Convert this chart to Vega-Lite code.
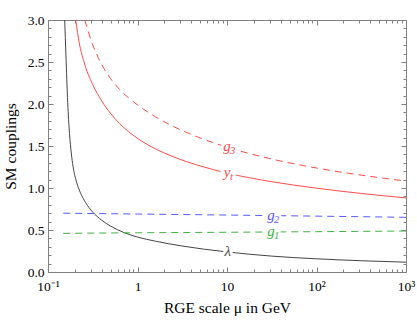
{
  "$schema": "https://vega.github.io/schema/vega-lite/v6.json",
  "width": 358,
  "height": 252,
  "autosize": "none",
  "padding": {"left": 48, "top": 20, "right": 11, "bottom": 52},
  "config": {
    "view": {"stroke": null},
    "font": "Liberation Serif",
    "axis": {
      "grid": false,
      "domainColor": "#808080",
      "tickColor": "#808080",
      "domainWidth": 1,
      "tickWidth": 1,
      "labelFont": "Liberation Serif",
      "titleFont": "Liberation Serif",
      "labelFontSize": 13.5,
      "titleFontSize": 15.5,
      "titleFontWeight": "normal",
      "labelColor": "#000000",
      "titleColor": "#000000",
      "labelFlush": false,
      "labelOverlap": false
    }
  },
  "datasets": {
    "curves": [
      {"s": "lambda", "mu": 0.1537, "v": 3.0},
      {"s": "lambda", "mu": 0.1585, "v": 2.59},
      {"s": "lambda", "mu": 0.166, "v": 2.016},
      {"s": "lambda", "mu": 0.1738, "v": 1.65},
      {"s": "lambda", "mu": 0.182, "v": 1.416},
      {"s": "lambda", "mu": 0.1905, "v": 1.256},
      {"s": "lambda", "mu": 0.1995, "v": 1.147},
      {"s": "lambda", "mu": 0.2138, "v": 1.033},
      {"s": "lambda", "mu": 0.2344, "v": 0.926},
      {"s": "lambda", "mu": 0.263, "v": 0.826},
      {"s": "lambda", "mu": 0.3162, "v": 0.713},
      {"s": "lambda", "mu": 0.3981, "v": 0.617},
      {"s": "lambda", "mu": 0.5012, "v": 0.546},
      {"s": "lambda", "mu": 0.7079, "v": 0.469},
      {"s": "lambda", "mu": 1, "v": 0.416},
      {"s": "lambda", "mu": 1.585, "v": 0.367},
      {"s": "lambda", "mu": 3.162, "v": 0.309},
      {"s": "lambda", "mu": 10, "v": 0.239},
      {"s": "lambda", "mu": 31.62, "v": 0.189},
      {"s": "lambda", "mu": 100, "v": 0.157},
      {"s": "lambda", "mu": 316.2, "v": 0.134},
      {"s": "lambda", "mu": 1000, "v": 0.117},
      {"s": "yt", "mu": 0.2042, "v": 3.0},
      {"s": "yt", "mu": 0.2239, "v": 2.722},
      {"s": "yt", "mu": 0.2512, "v": 2.508},
      {"s": "yt", "mu": 0.3162, "v": 2.23},
      {"s": "yt", "mu": 0.3981, "v": 2.037},
      {"s": "yt", "mu": 0.5012, "v": 1.886},
      {"s": "yt", "mu": 0.631, "v": 1.768},
      {"s": "yt", "mu": 0.7943, "v": 1.671},
      {"s": "yt", "mu": 1, "v": 1.591},
      {"s": "yt", "mu": 1.585, "v": 1.466},
      {"s": "yt", "mu": 2.512, "v": 1.372},
      {"s": "yt", "mu": 5.012, "v": 1.263},
      {"s": "yt", "mu": 10, "v": 1.178},
      {"s": "yt", "mu": 31.62, "v": 1.075},
      {"s": "yt", "mu": 100, "v": 0.998},
      {"s": "yt", "mu": 316.2, "v": 0.935},
      {"s": "yt", "mu": 1000, "v": 0.882},
      {"s": "g3", "mu": 0.2576, "v": 3.0},
      {"s": "g3", "mu": 0.3162, "v": 2.704},
      {"s": "g3", "mu": 0.3981, "v": 2.471},
      {"s": "g3", "mu": 0.5012, "v": 2.301},
      {"s": "g3", "mu": 0.631, "v": 2.173},
      {"s": "g3", "mu": 0.7943, "v": 2.073},
      {"s": "g3", "mu": 1, "v": 1.989},
      {"s": "g3", "mu": 1.585, "v": 1.848},
      {"s": "g3", "mu": 2.512, "v": 1.733},
      {"s": "g3", "mu": 5.012, "v": 1.596},
      {"s": "g3", "mu": 10, "v": 1.486},
      {"s": "g3", "mu": 31.62, "v": 1.345},
      {"s": "g3", "mu": 100, "v": 1.238},
      {"s": "g3", "mu": 316.2, "v": 1.153},
      {"s": "g3", "mu": 1000, "v": 1.083},
      {"s": "g2", "mu": 0.148, "v": 0.70},
      {"s": "g2", "mu": 1, "v": 0.69},
      {"s": "g2", "mu": 10, "v": 0.678},
      {"s": "g2", "mu": 100, "v": 0.665},
      {"s": "g2", "mu": 1000, "v": 0.651},
      {"s": "g1", "mu": 0.148, "v": 0.46},
      {"s": "g1", "mu": 1, "v": 0.467},
      {"s": "g1", "mu": 10, "v": 0.473},
      {"s": "g1", "mu": 100, "v": 0.48},
      {"s": "g1", "mu": 1000, "v": 0.488}
    ],
    "labels": [
      {"s": "lambda", "main": "λ", "sub": "", "mu": 10.2, "v": 0.239},
      {"s": "yt", "main": "y", "sub": "t", "mu": 10, "v": 1.178},
      {"s": "g3", "main": "g", "sub": "3", "mu": 10, "v": 1.486},
      {"s": "g2", "main": "g", "sub": "2", "mu": 31, "v": 0.667},
      {"s": "g1", "main": "g", "sub": "1", "mu": 31, "v": 0.478}
    ]
  },
  "layer": [
    {
      "data": {"name": "curves"},
      "transform": [{"filter": "datum.s == 'lambda' || datum.s == 'yt'"}],
      "mark": {"type": "line", "strokeWidth": 1, "interpolate": "monotone", "clip": true},
      "encoding": {
        "x": {
          "field": "mu", "type": "quantitative",
          "scale": {"type": "log", "domain": [0.1, 1000], "nice": false},
          "axis": {
            "orient": "bottom",
            "values": [0.1, 1, 10, 100, 1000],
            "labelExpr": "datum.value < 0.5 ? '10⁻¹' : datum.value < 5 ? '1' : datum.value < 50 ? '10' : datum.value < 500 ? '10²' : '10³'",
            "labelFont": "Liberation Serif",
            "titleFont": "Liberation Serif",
            "tickSize": -5,
            "labelPadding": 12,
            "title": "RGE scale μ in GeV",
            "titlePadding": 8
          }
        },
        "y": {
          "field": "v", "type": "quantitative",
          "scale": {"domain": [0, 3], "nice": false, "zero": false},
          "axis": {
            "orient": "left",
            "values": [0, 0.5, 1, 1.5, 2, 2.5, 3],
            "format": ".1f",
            "labelFont": "Liberation Serif",
            "titleFont": "Liberation Serif",
            "tickSize": -5,
            "labelPadding": 9,
            "title": "SM couplings",
            "titlePadding": 9
          }
        },
        "color": {
          "field": "s", "type": "nominal",
          "scale": {"domain": ["lambda", "yt", "g3", "g2", "g1"], "range": ["#444444", "#ff4a4a", "#ff4a4a", "#5858ff", "#44b044"]},
          "legend": null
        }
      }
    },
    {
      "data": {"name": "curves"},
      "transform": [{"filter": "datum.s == 'g3' || datum.s == 'g2' || datum.s == 'g1'"}],
      "mark": {"type": "line", "strokeWidth": 1, "interpolate": "monotone", "clip": true, "strokeDash": [7, 5]},
      "encoding": {
        "x": {
          "field": "mu", "type": "quantitative",
          "axis": {
            "orient": "bottom",
            "values": [0.2, 0.3, 0.4, 0.5, 0.6, 0.7, 0.8, 0.9, 2, 3, 4, 5, 6, 7, 8, 9, 20, 30, 40, 50, 60, 70, 80, 90, 200, 300, 400, 500, 600, 700, 800, 900],
            "tickSize": -3,
            "labels": false,
            "domain": false,
            "title": null
          }
        },
        "y": {
          "field": "v", "type": "quantitative",
          "axis": {
            "orient": "left",
            "values": [0.1, 0.2, 0.3, 0.4, 0.6, 0.7, 0.8, 0.9, 1.1, 1.2, 1.3, 1.4, 1.6, 1.7, 1.8, 1.9, 2.1, 2.2, 2.3, 2.4, 2.6, 2.7, 2.8, 2.9],
            "tickSize": -3,
            "labels": false,
            "domain": false,
            "title": null
          }
        },
        "color": {"field": "s", "type": "nominal", "legend": null}
      }
    },
    {
      "data": {"name": "labels"},
      "mark": {"type": "text", "font": "Liberation Serif", "fontStyle": "italic", "fontSize": 15, "baseline": "alphabetic", "align": "center", "dy": 4, "fill": "white", "stroke": "white", "strokeWidth": 6},
      "encoding": {
        "x": {
          "field": "mu", "type": "quantitative",
          "axis": {"orient": "top", "values": [0.1, 1, 10, 100, 1000], "tickSize": -5, "labels": false, "title": null}
        },
        "y": {
          "field": "v", "type": "quantitative",
          "axis": {"orient": "right", "values": [0, 0.5, 1, 1.5, 2, 2.5, 3], "tickSize": -5, "labels": false, "title": null}
        },
        "text": {"field": "main"}
      }
    },
    {
      "data": {"name": "labels"},
      "mark": {"type": "text", "font": "Liberation Serif", "fontStyle": "italic", "fontSize": 10.5, "baseline": "alphabetic", "align": "left", "dx": 3, "dy": 7, "fill": "white", "stroke": "white", "strokeWidth": 5},
      "encoding": {
        "x": {
          "field": "mu", "type": "quantitative",
          "axis": {
            "orient": "top",
            "values": [0.2, 0.3, 0.4, 0.5, 0.6, 0.7, 0.8, 0.9, 2, 3, 4, 5, 6, 7, 8, 9, 20, 30, 40, 50, 60, 70, 80, 90, 200, 300, 400, 500, 600, 700, 800, 900],
            "tickSize": -3, "labels": false, "domain": false, "title": null
          }
        },
        "y": {
          "field": "v", "type": "quantitative",
          "axis": {
            "orient": "right",
            "values": [0.1, 0.2, 0.3, 0.4, 0.6, 0.7, 0.8, 0.9, 1.1, 1.2, 1.3, 1.4, 1.6, 1.7, 1.8, 1.9, 2.1, 2.2, 2.3, 2.4, 2.6, 2.7, 2.8, 2.9],
            "tickSize": -3, "labels": false, "domain": false, "title": null
          }
        },
        "text": {"field": "sub"}
      }
    },
    {
      "data": {"name": "labels"},
      "mark": {"type": "text", "font": "Liberation Serif", "fontStyle": "italic", "fontSize": 15, "baseline": "alphabetic", "align": "center", "dy": 4},
      "encoding": {
        "x": {"field": "mu", "type": "quantitative", "axis": null},
        "y": {"field": "v", "type": "quantitative", "axis": null},
        "text": {"field": "main"},
        "color": {"field": "s", "type": "nominal", "legend": null}
      }
    },
    {
      "data": {"name": "labels"},
      "mark": {"type": "text", "font": "Liberation Serif", "fontStyle": "italic", "fontSize": 10.5, "baseline": "alphabetic", "align": "left", "dx": 3, "dy": 7},
      "encoding": {
        "x": {"field": "mu", "type": "quantitative", "axis": null},
        "y": {"field": "v", "type": "quantitative", "axis": null},
        "text": {"field": "sub"},
        "color": {"field": "s", "type": "nominal", "legend": null}
      }
    }
  ],
  "resolve": {"axis": {"x": "independent", "y": "independent"}}
}
